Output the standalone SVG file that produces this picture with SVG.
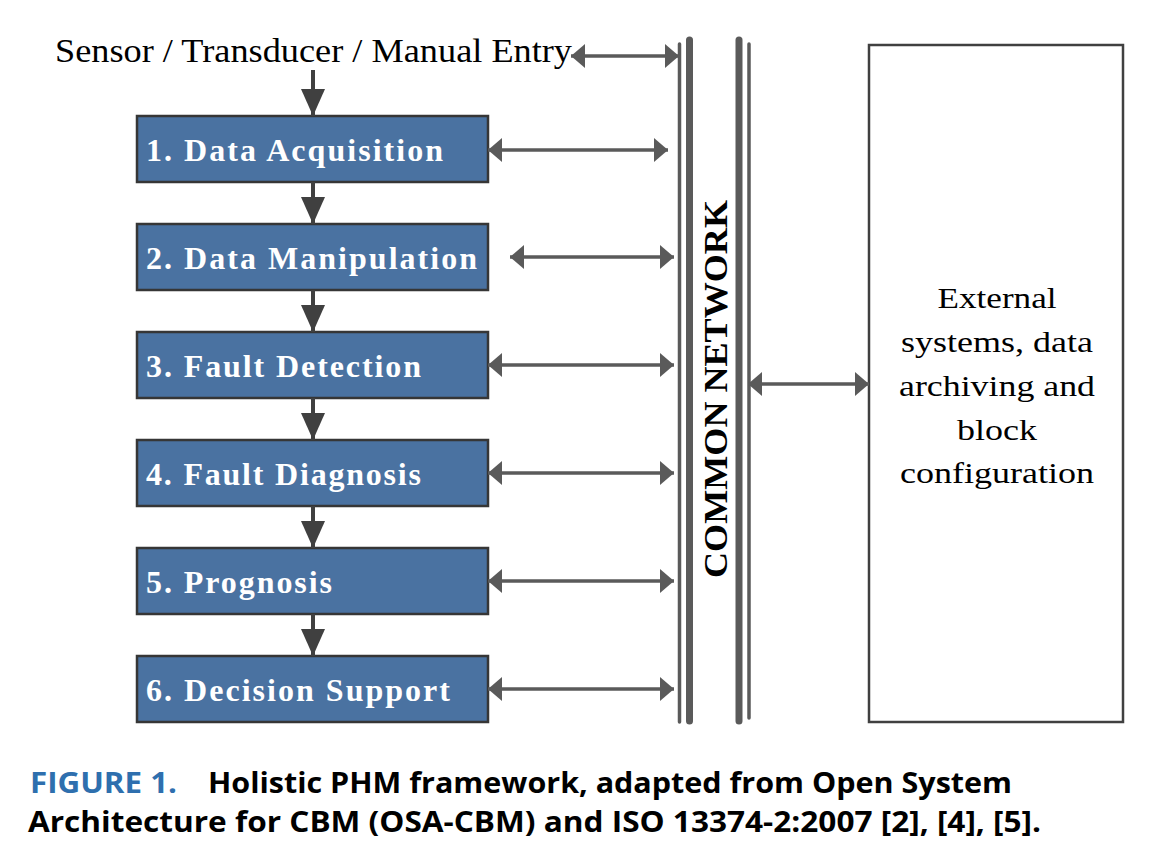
<svg xmlns="http://www.w3.org/2000/svg" width="1149" height="863" viewBox="0 0 1149 863">
<style>
.box{fill:#4a72a1;stroke:#363636;stroke-width:2.5}
.lbl{font-family:"Liberation Serif","Times New Roman",serif;font-weight:bold;font-size:32px;fill:#ffffff}
.txt{font-family:"Liberation Serif","Times New Roman",serif;fill:#000000}
.down{stroke:#404040;stroke-width:4;fill:none;marker-end:url(#hd)}
.dbl{stroke:#5a5a5a;stroke-width:3.5;fill:none;marker-start:url(#hs);marker-end:url(#he)}
.net{stroke:#5a5a5a;fill:none;stroke-linecap:round}
.cap{font-family:"Open Sans","Liberation Sans",sans-serif;font-weight:bold;font-size:28px}
</style>
<defs>
<marker id="he" viewBox="0 0 14 24" refX="14" refY="12" markerWidth="14" markerHeight="24" markerUnits="userSpaceOnUse" orient="auto">
<path d="M0,0 L14,12 L0,24 Z" fill="#5a5a5a"/>
</marker>
<marker id="hs" viewBox="0 0 14 24" refX="0" refY="12" markerWidth="14" markerHeight="24" markerUnits="userSpaceOnUse" orient="auto">
<path d="M14,0 L0,12 L14,24 Z" fill="#5a5a5a"/>
</marker>
<marker id="hd" viewBox="0 0 27 24" refX="27" refY="12" markerWidth="27" markerHeight="24" markerUnits="userSpaceOnUse" orient="auto">
<path d="M0,0 L27,12 L0,24 Z" fill="#404040"/>
</marker>
</defs>

<g id="network">
<line class="net" x1="679.5" y1="44" x2="679.5" y2="722" stroke-width="3.5"/>
<line class="net" x1="689.5" y1="40" x2="689.5" y2="721" stroke-width="7"/>
<line class="net" x1="739" y1="40" x2="739" y2="721" stroke-width="7"/>
<line class="net" x1="749" y1="44" x2="749" y2="718" stroke-width="3.5"/>
<text class="txt" transform="translate(727,389) rotate(-90)" text-anchor="middle" font-weight="bold" font-size="34" textLength="378" lengthAdjust="spacingAndGlyphs">COMMON NETWORK</text>
</g>

<g id="sensor">
<text class="txt" x="55" y="62" font-size="33" textLength="517" lengthAdjust="spacingAndGlyphs">Sensor / Transducer / Manual Entry</text>
</g>

<g id="n1"><rect class="box" x="137" y="116" width="351" height="66"/><text class="lbl" x="146" y="161" textLength="297" lengthAdjust="spacing">1. Data Acquisition</text></g>
<g id="n2"><rect class="box" x="137" y="224" width="351" height="66"/><text class="lbl" x="146" y="269" textLength="331" lengthAdjust="spacing">2. Data Manipulation</text></g>
<g id="n3"><rect class="box" x="137" y="332" width="351" height="66"/><text class="lbl" x="146" y="377" textLength="275" lengthAdjust="spacing">3. Fault Detection</text></g>
<g id="n4"><rect class="box" x="137" y="440" width="351" height="66"/><text class="lbl" x="146" y="485" textLength="275" lengthAdjust="spacing">4. Fault Diagnosis</text></g>
<g id="n5"><rect class="box" x="137" y="548" width="351" height="66"/><text class="lbl" x="146" y="593" textLength="186" lengthAdjust="spacing">5. Prognosis</text></g>
<g id="n6"><rect class="box" x="137" y="656" width="351" height="66"/><text class="lbl" x="146" y="701" textLength="304" lengthAdjust="spacing">6. Decision Support</text></g>

<g id="external">
<rect x="869" y="45" width="254" height="677" fill="#ffffff" stroke="#404040" stroke-width="2.5"/>
<g class="txt" font-size="29" text-anchor="middle">
<text x="997" y="308" textLength="119" lengthAdjust="spacingAndGlyphs">External</text>
<text x="997" y="352" textLength="192" lengthAdjust="spacingAndGlyphs">systems, data</text>
<text x="997" y="396" textLength="196" lengthAdjust="spacingAndGlyphs">archiving and</text>
<text x="997" y="440" textLength="80" lengthAdjust="spacingAndGlyphs">block</text>
<text x="997" y="483" textLength="194" lengthAdjust="spacingAndGlyphs">configuration</text>
</g>
</g>

<g id="connectors">
<line class="down" x1="313" y1="70" x2="313" y2="116"/>
<line class="down" x1="313" y1="182" x2="313" y2="224"/>
<line class="down" x1="313" y1="290" x2="313" y2="332"/>
<line class="down" x1="313" y1="398" x2="313" y2="440"/>
<line class="down" x1="313" y1="506" x2="313" y2="548"/>
<line class="down" x1="313" y1="614" x2="313" y2="656"/>
<line class="dbl" x1="571" y1="56" x2="679" y2="56"/>
<line class="dbl" x1="488" y1="150" x2="668" y2="150"/>
<line class="dbl" x1="510" y1="257" x2="674" y2="257"/>
<line class="dbl" x1="488" y1="365" x2="674" y2="365"/>
<line class="dbl" x1="488" y1="473" x2="674" y2="473"/>
<line class="dbl" x1="488" y1="581" x2="674" y2="581"/>
<line class="dbl" x1="488" y1="689" x2="674" y2="689"/>
<line class="dbl" x1="748" y1="384" x2="869" y2="384"/>
</g>

<g id="caption">
<text class="cap" x="30" y="793" fill="#2e6fae" textLength="147" lengthAdjust="spacingAndGlyphs">FIGURE 1.</text>
<text class="cap" x="208" y="793" fill="#000000" textLength="804" lengthAdjust="spacingAndGlyphs">Holistic PHM framework, adapted from Open System</text>
<text class="cap" x="28" y="832" fill="#000000" textLength="1013" lengthAdjust="spacingAndGlyphs">Architecture for CBM (OSA-CBM) and ISO 13374-2:2007 [2], [4], [5].</text>
</g>
</svg>
